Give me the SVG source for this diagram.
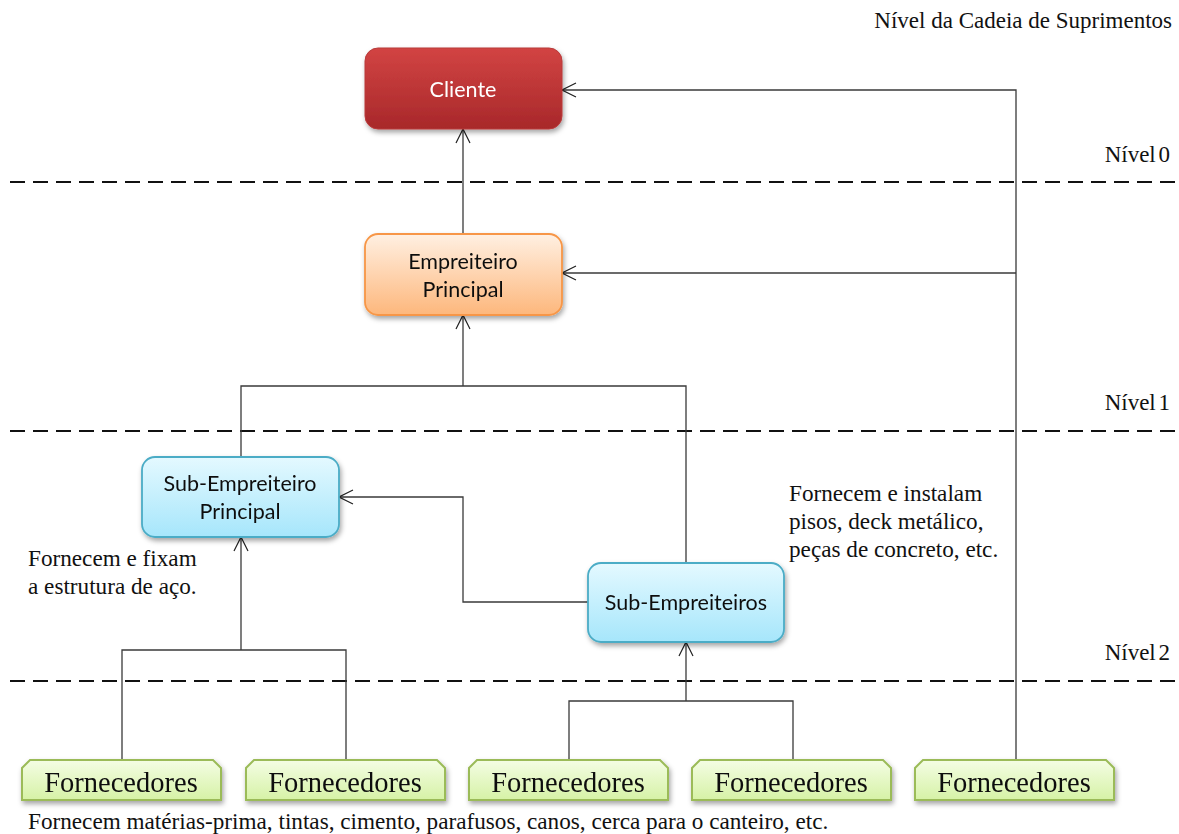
<svg xmlns="http://www.w3.org/2000/svg" width="1179" height="834" viewBox="0 0 1179 834">
  <defs>
    <linearGradient id="gRed" x1="0" y1="0" x2="0" y2="1">
      <stop offset="0" stop-color="#d24443"/>
      <stop offset="1" stop-color="#a8282a"/>
    </linearGradient>
    <linearGradient id="gOrange" x1="0" y1="0" x2="0" y2="1">
      <stop offset="0" stop-color="#fff0e2"/>
      <stop offset="1" stop-color="#fdb77c"/>
    </linearGradient>
    <linearGradient id="gCyan" x1="0" y1="0" x2="0" y2="1">
      <stop offset="0" stop-color="#e4f9ff"/>
      <stop offset="1" stop-color="#a6e6fb"/>
    </linearGradient>
    <linearGradient id="gGreen" x1="0" y1="0" x2="0" y2="1">
      <stop offset="0" stop-color="#f4fde4"/>
      <stop offset="1" stop-color="#d6f2a6"/>
    </linearGradient>
    <filter id="shadow" x="-10%" y="-20%" width="125%" height="150%">
      <feDropShadow dx="1.5" dy="3" stdDeviation="2.5" flood-color="#000" flood-opacity="0.35"/>
    </filter>
    <marker id="arrow" viewBox="0 0 16 16" refX="15" refY="8" markerWidth="16" markerHeight="16" markerUnits="userSpaceOnUse" orient="auto">
      <polyline points="1,1 15,8 1,15" fill="none" stroke="#222" stroke-width="1.2"/>
    </marker>
    <path id="snip" d="M8,0 H191 L199,8 V40 H0 V8 Z"/>
  </defs>
  <style>
    .lbl { font-family: "Lato", "Noto Sans", sans-serif; font-size: 21.5px; text-anchor: middle; fill: #111; }
    .serif { font-family: "Liberation Serif", "Times New Roman", serif; fill: #111; }
    .lvl { font-size: 23px; text-anchor: end; }
    .note { font-size: 23.2px; }
    .forn { font-size: 28.5px; text-anchor: middle; }
    .dash { stroke: #111; stroke-width: 2; stroke-dasharray: 15 8; fill: none; }
    .conn { stroke: #3a3a3a; stroke-width: 1.3; fill: none; }
    .box { filter: url(#shadow); }
    .fbox { fill: url(#gGreen); stroke: #9bbb59; stroke-width: 2; }
  </style>

  <rect width="1179" height="834" fill="#ffffff"/>

  <!-- supply chain level separators -->
  <g id="levels">
    <line class="dash" x1="10" y1="182" x2="1179" y2="182"/>
    <line class="dash" x1="10" y1="431" x2="1179" y2="431"/>
    <line class="dash" x1="10" y1="681" x2="1179" y2="681"/>
    <text class="serif lvl" x="1172" y="28">Nível da Cadeia de Suprimentos</text>
    <text class="serif lvl" x="1170" y="162" word-spacing="-3">Nível 0</text>
    <text class="serif lvl" x="1170" y="410" word-spacing="-3">Nível 1</text>
    <text class="serif lvl" x="1170" y="660" word-spacing="-3">Nível 2</text>
  </g>

  <!-- connectors -->
  <g id="connectors">
    <!-- direct supplier to client and main contractor -->
    <polyline class="conn" points="1016,760 1016,90 562,90" marker-end="url(#arrow)"/>
    <polyline class="conn" points="1016,273 562,273" marker-end="url(#arrow)"/>
    <!-- main contractor to client -->
    <line class="conn" x1="463" y1="234" x2="463" y2="129" marker-end="url(#arrow)"/>
    <!-- subcontractors to main contractor -->
    <polyline class="conn" points="241,457 241,386 686,386 686,563"/>
    <line class="conn" x1="463" y1="386" x2="463" y2="315" marker-end="url(#arrow)"/>
    <!-- subcontractors to main subcontractor -->
    <polyline class="conn" points="588,602 463,602 463,497 339,497" marker-end="url(#arrow)"/>
    <!-- suppliers to main subcontractor -->
    <polyline class="conn" points="122,760 122,650 346,650 346,760"/>
    <line class="conn" x1="241" y1="650" x2="241" y2="537" marker-end="url(#arrow)"/>
    <!-- suppliers to subcontractors -->
    <polyline class="conn" points="569,760 569,701 793,701 793,760"/>
    <line class="conn" x1="686" y1="701" x2="686" y2="642" marker-end="url(#arrow)"/>
  </g>

  <g id="cliente" class="box">
    <rect x="365" y="48" width="197" height="81" rx="13" fill="url(#gRed)" stroke="#b83a3a" stroke-width="1"/>
    <text class="lbl" x="463" y="97" style="fill:#ffffff">Cliente</text>
  </g>

  <g id="empreiteiro-principal" class="box">
    <rect x="365" y="234" width="197" height="81" rx="13" fill="url(#gOrange)" stroke="#f79646" stroke-width="1.8"/>
    <text class="lbl" x="463" y="269">Empreiteiro</text>
    <text class="lbl" x="463" y="297">Principal</text>
  </g>

  <g id="sub-empreiteiro-principal" class="box">
    <rect x="142" y="457" width="197" height="80" rx="13" fill="url(#gCyan)" stroke="#4bacc6" stroke-width="1.8"/>
    <text class="lbl" x="240" y="491">Sub-Empreiteiro</text>
    <text class="lbl" x="240" y="519">Principal</text>
  </g>

  <g id="sub-empreiteiros" class="box">
    <rect x="588" y="563" width="196" height="79" rx="13" fill="url(#gCyan)" stroke="#4bacc6" stroke-width="1.8"/>
    <text class="lbl" x="686" y="610">Sub-Empreiteiros</text>
  </g>

  <g id="fornecedores-1" class="box">
    <use href="#snip" class="fbox" x="22" y="760"/>
    <text class="serif forn" x="121" y="792">Fornecedores</text>
  </g>
  <g id="fornecedores-2" class="box">
    <use href="#snip" class="fbox" x="246" y="760"/>
    <text class="serif forn" x="345" y="792">Fornecedores</text>
  </g>
  <g id="fornecedores-3" class="box">
    <use href="#snip" class="fbox" x="469" y="760"/>
    <text class="serif forn" x="568" y="792">Fornecedores</text>
  </g>
  <g id="fornecedores-4" class="box">
    <use href="#snip" class="fbox" x="692" y="760"/>
    <text class="serif forn" x="791" y="792">Fornecedores</text>
  </g>
  <g id="fornecedores-5" class="box">
    <use href="#snip" class="fbox" x="915" y="760"/>
    <text class="serif forn" x="1014" y="792">Fornecedores</text>
  </g>

  <!-- notes -->
  <g id="notes">
    <text class="serif note" x="28" y="566">Fornecem e fixam</text>
    <text class="serif note" x="28" y="594">a estrutura de aço.</text>
    <text class="serif note" x="789" y="501">Fornecem e instalam</text>
    <text class="serif note" x="789" y="529">pisos, deck metálico,</text>
    <text class="serif note" x="789" y="557">peças de concreto, etc.</text>
    <text class="serif note" x="28" y="829">Fornecem matérias-prima, tintas, cimento, parafusos, canos, cerca para o canteiro, etc.</text>
  </g>
</svg>
